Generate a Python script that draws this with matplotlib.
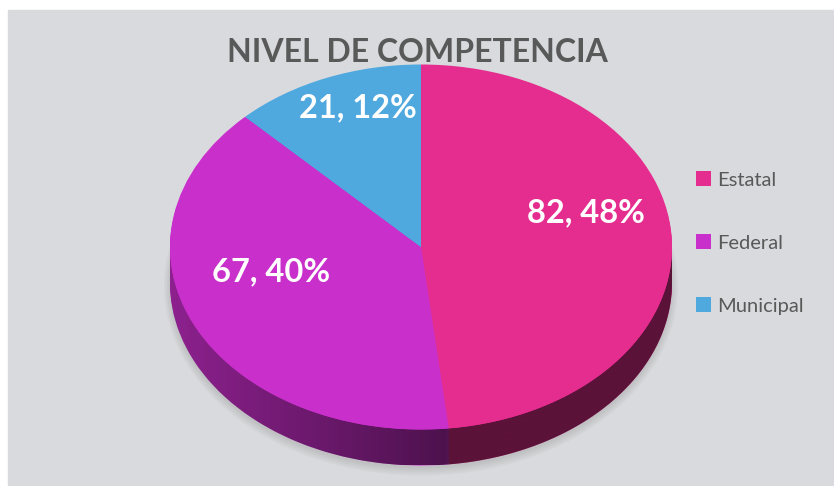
import numpy as np
import matplotlib.pyplot as plt
from matplotlib.patches import Rectangle, Ellipse, Polygon

# datos
categorias = ["Estatal", "Federal", "Municipal"]
valores = [82, 67, 21]
porcentajes = [48, 40, 12]
colores = ["#e52d8f", "#c92fcb", "#4fa8de"]
titulo = "NIVEL DE COMPETENCIA"

W, H = 834, 486
fig = plt.figure(figsize=(W / 100, H / 100), dpi=100)
fig.patch.set_facecolor("white")
fig.patches.append(Rectangle((8 / W, 0), 1 - 8 / W, (H - 10) / H,
                             transform=fig.transFigure, color="#d9dadd", zorder=-10))

# ejes en toda la figura; el circulo unidad se ve como elipse
cx, cy = 421, H - 247
rx, ry = 251, 182.5
ax = fig.add_axes([0, 0, 1, 1])
ax.patch.set_alpha(0)
prof = 36 / ry  # grosor del lado

# sombra
for k in range(5):
    ax.add_patch(Ellipse((0, -prof - 0.015), 2.0 + 0.012 * k, 2.0 + 0.02 * k,
                         color="#808080", alpha=0.06, lw=0, zorder=1))

# lado del pastel (capas)
n = 24
for k in range(n, 0, -1):
    ax.pie(valores, colors=colores, startangle=90, counterclock=False,
           center=(0, -prof * k / n), wedgeprops=dict(linewidth=0, zorder=2))

# sombreado del lado
t = np.linspace(np.pi, 2 * np.pi, 200)
banda = np.concatenate([np.c_[np.cos(t), np.sin(t)],
                        np.c_[np.cos(t[::-1]), np.sin(t[::-1]) - prof]])
clip = Polygon(banda, closed=True, transform=ax.transData, facecolor="none", lw=0)
ax.add_patch(clip)
xs = np.linspace(-1, 1, 400)
alpha = np.where(xs < 0.1, 0.3 + 0.32 * (xs + 1) / 1.1, 0.6)
grad = np.zeros((2, len(xs), 4))
grad[..., 3] = alpha
img = ax.imshow(grad, extent=(-1, 1, -1 - prof, 0), aspect="auto", zorder=3,
                interpolation="bilinear")
img.set_clip_path(clip)

# cara superior
textos = iter([f"{v}, {p}%" for v, p in zip(valores, porcentajes)])
cunas, _, autot = ax.pie(valores, colors=colores, startangle=90, counterclock=False,
                         autopct=lambda p: next(textos), pctdistance=0.66,
                         wedgeprops=dict(linewidth=0, zorder=4),
                         textprops=dict(color="white", fontsize=23.5, fontweight="bold",
                                        family="Lato", zorder=6))
for a in autot:
    x, y = a.get_position()
    a.set_position((x, y + 0.15))

ax.set_aspect("auto")
ax.set_xlim(-cx / rx, (W - cx) / rx)
ax.set_ylim(-cy / ry, (H - cy) / ry)
ax.axis("off")

fig.text(417 / W, 1 - 53 / H, titulo, ha="center", va="center", fontsize=23,
         fontweight="bold", color="#595959", family="Lato")

ax.legend(cunas, categorias, loc="center left", bbox_to_anchor=(696 / W, 1 - 243 / H),
          bbox_transform=fig.transFigure, frameon=False,
          labelcolor="#595959", prop=dict(family="Lato", size=14.5),
          handlelength=0.75, handleheight=0.75, handletextpad=0.3,
          labelspacing=2.26, borderpad=0, borderaxespad=0)

fig.savefig("out.png", dpi=100, facecolor=fig.get_facecolor())
